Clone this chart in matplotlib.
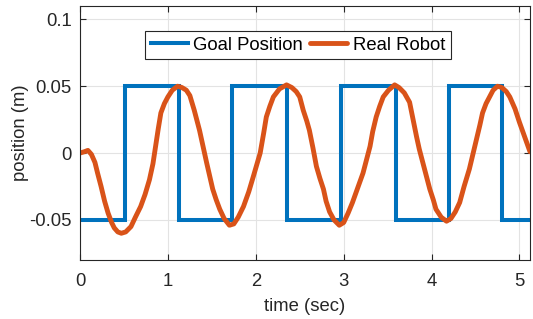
import matplotlib
matplotlib.use("Agg")
import matplotlib.pyplot as plt

plt.rcParams['font.family'] = ['Liberation Sans', 'DejaVu Sans']

# Goal position (square wave): switching times and levels
goal_t = [0.0, 0.507, 1.13, 1.735, 2.36, 2.97, 3.60, 4.20, 4.80, 5.12]
goal_v = [-0.05, 0.05, -0.05, 0.05, -0.05, 0.05, -0.05, 0.05, -0.05, -0.05]

# Real robot trajectory
robot_t = [0.00, 0.05, 0.09, 0.13, 0.17, 0.20, 0.24, 0.28, 0.32, 0.36, 0.39, 0.43,
           0.47, 0.52, 0.58, 0.63, 0.69, 0.74, 0.79, 0.83, 0.86, 0.89, 0.92, 0.96,
           1.00, 1.05, 1.11, 1.16, 1.21, 1.25, 1.30, 1.36, 1.40, 1.44, 1.51, 1.55,
           1.59, 1.64, 1.70, 1.75, 1.80, 1.86, 1.92, 1.97, 2.01, 2.05, 2.09, 2.12,
           2.16, 2.20, 2.27, 2.35, 2.41, 2.46, 2.50, 2.54, 2.58, 2.61, 2.65, 2.69,
           2.73, 2.77, 2.80, 2.84, 2.89, 2.95, 3.00, 3.05, 3.10, 3.16, 3.22, 3.26,
           3.30, 3.33, 3.37, 3.41, 3.45, 3.51, 3.58, 3.63, 3.69, 3.75, 3.79, 3.83,
           3.86, 3.90, 3.94, 3.98, 4.02, 4.05, 4.11, 4.17, 4.22, 4.27, 4.32, 4.37,
           4.43, 4.47, 4.51, 4.55, 4.58, 4.62, 4.66, 4.70, 4.75, 4.80, 4.85, 4.89,
           4.95, 5.00, 5.06, 5.12]
robot_v = [0.000, 0.001, 0.002, -0.001, -0.007, -0.015, -0.025, -0.036, -0.045, -0.052, -0.056, -0.059,
           -0.060, -0.059, -0.055, -0.048, -0.040, -0.031, -0.020, -0.008, 0.005, 0.018, 0.030, 0.037,
           0.042, 0.047, 0.050, 0.049, 0.047, 0.043, 0.032, 0.017, 0.005, -0.007, -0.027, -0.035,
           -0.042, -0.049, -0.054, -0.053, -0.048, -0.040, -0.029, -0.018, -0.009, 0.000, 0.015, 0.027,
           0.035, 0.042, 0.048, 0.051, 0.049, 0.046, 0.042, 0.032, 0.024, 0.017, 0.004, -0.010,
           -0.019, -0.027, -0.036, -0.044, -0.050, -0.054, -0.052, -0.045, -0.037, -0.026, -0.015, -0.005,
           0.005, 0.016, 0.027, 0.035, 0.042, 0.047, 0.051, 0.049, 0.045, 0.038, 0.025, 0.012,
           0.003, -0.007, -0.017, -0.027, -0.035, -0.042, -0.048, -0.051, -0.049, -0.044, -0.037, -0.025,
           -0.012, -0.001, 0.010, 0.021, 0.030, 0.037, 0.042, 0.047, 0.050, 0.049, 0.046, 0.042,
           0.033, 0.023, 0.012, 0.001]

xticks = [0, 1, 2, 3, 4, 5]
yticks = [-0.05, 0, 0.05, 0.1]
yticklabels = ['-0.05', '0', '0.05', '0.1']

FS = 13.3

fig = plt.figure(figsize=(5.33, 3.19), dpi=100)
ax = fig.add_axes([80/533, 59/319, 450/533, 254/319])

ax.plot(goal_t, goal_v, drawstyle='steps-post', color='#0072BD', lw=2.9,
        label='Goal Position', solid_joinstyle='miter')
ax.plot(robot_t, robot_v, color='#D95319', lw=3.5, label='Real Robot',
        solid_joinstyle='round', solid_capstyle='round')

ax.set_xlim(0, 5.12)
ax.set_ylim(-0.08, 0.11)
ax.set_xticks(xticks)
ax.set_yticks(yticks)
ax.set_yticklabels(yticklabels)
ax.grid(True, color='#e3e3e3', lw=0.8)
ax.set_axisbelow(True)
ax.tick_params(direction='in', top=True, right=True, labelsize=FS,
               colors='#262626', length=4, width=0.8)
ax.tick_params(axis='x', pad=9)
ax.tick_params(axis='y', pad=6)
for s in ax.spines.values():
    s.set_color('#262626')
    s.set_linewidth(0.8)

ax.set_xlabel('time (sec)', fontsize=FS, color='#262626', labelpad=6)
ax.set_ylabel('position (m)', fontsize=FS, color='#262626', labelpad=0)

leg = ax.legend(loc='center', bbox_to_anchor=(0.484, 0.846), ncol=2,
                fontsize=FS, fancybox=False, framealpha=1, edgecolor='#262626',
                handlelength=2.0, handletextpad=0.3, columnspacing=0.4,
                borderpad=0.3, borderaxespad=0)
leg.get_frame().set_linewidth(0.8)

fig.savefig('out.png', dpi=100)
